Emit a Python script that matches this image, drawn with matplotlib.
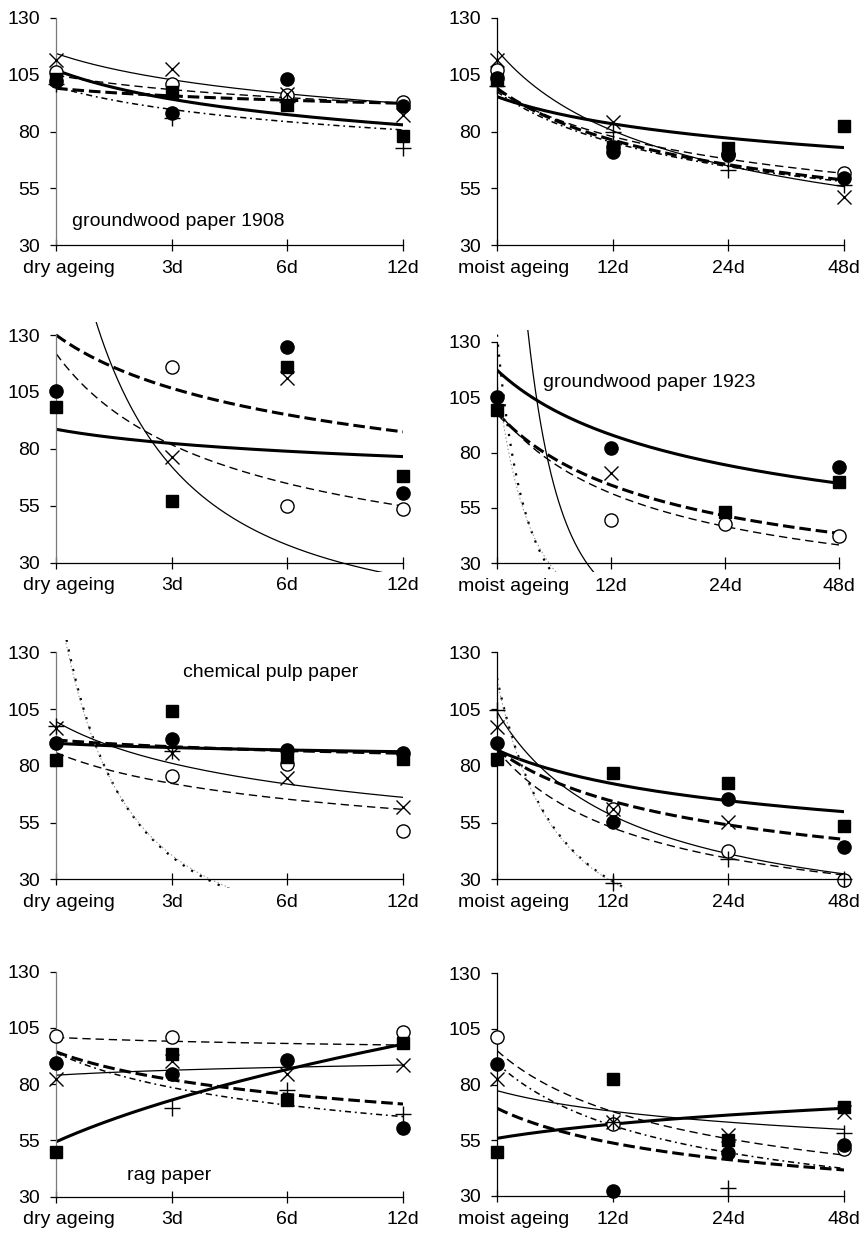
import numpy as np
import matplotlib
matplotlib.use("Agg")
import matplotlib.pyplot as plt
from matplotlib.patches import Rectangle
from matplotlib.transforms import ScaledTranslation

plt.rcParams["font.family"] = ["Liberation Sans", "DejaVu Sans"]
plt.rcParams["font.size"] = 14

NAN = np.nan

dry_ticks = ["dry ageing", "3d", "6d", "12d"]
moist_ticks = ["moist ageing", "12d", "24d", "48d"]

# measured values at the four ageing steps
# keys: sq = filled square, fc = filled circle, oc = open circle, x = cross, plus = plus
gw1908_dry = {
    "sq": [103, 97.5, 91.6, 78],
    "fc": [102, 88, 103, 91],
    "oc": [106, 101, 96, 93],
    "x": [111.5, 107.5, 96.5, 87.3],
    "plus": [101, 86, 93, 72.6],
}
gw1908_moist = {
    "sq": [102.6, 73.3, 72.6, 82.3],
    "fc": [103.4, 71.1, 69.7, 59.4],
    "oc": [107, 73, 70, 61.8],
    "x": [111.4, 84.3, NAN, 51.4],
    "plus": [100, 79.9, 63.1, 56.5],
}
gw1923_dry = {
    "sq": [98.2, 57.2, 116.1, 68.1],
    "fc": [105.5, NAN, 124.6, 60.7],
    "oc": [NAN, 116.1, 55, 53.4],
    "x": [NAN, 76.6, 111, NAN],
    "plus": [NAN, NAN, NAN, NAN],
}
gw1923_moist = {
    "sq": [99.2, NAN, 53.3, 66.8],
    "fc": [105.2, 81.9, NAN, 73.3],
    "oc": [NAN, 49.5, 47.7, 42.3],
    "x": [NAN, 70.9, NAN, NAN],
    "plus": [NAN, NAN, NAN, NAN],
}
chem_dry = {
    "sq": [82.6, 104.3, 84, 82.9],
    "fc": [90.2, 91.7, 87, 85.8],
    "oc": [NAN, 75.5, 80.8, 51.4],
    "x": [96.5, 85.5, 74.5, 62],
    "plus": [97.5, 86.5, NAN, NAN],
}
chem_moist = {
    "sq": [82.9, 77, 72.6, 53.5],
    "fc": [90.2, 55.4, 65.3, 44.1],
    "oc": [NAN, 60.8, 42.6, 29.7],
    "x": [97.3, 60.8, 55.4, NAN],
    "plus": [104.6, 28.2, 38.8, 30],
}
rag_dry = {
    "sq": [50, 93.4, 73, 98.1],
    "fc": [89.3, 84.5, 90.7, 60.4],
    "oc": [101.4, 101.1, NAN, 103.3],
    "x": [82.1, 90.4, 84.5, 88.5],
    "plus": [NAN, 69.3, 77.4, 66.6],
}
rag_moist = {
    "sq": [49.9, 82.4, 55.1, 69.8],
    "fc": [89.3, 32.4, 49.2, 52.9],
    "oc": [101.3, 62.3, NAN, 50.9],
    "x": [82.4, 63.4, 57.4, 67.9],
    "plus": [NAN, 63.4, 33.4, 58.1],
}

# power trendlines y = c * x**k on the step index x = 1..4, as (c, k)
gw1908_dry_trend = {"sq": (107, -0.184), "fc": (99, -0.0498), "oc": (104.8, -0.0908),
                    "x": (114.3, -0.1535), "plus": (99.7, -0.1525)}
gw1908_moist_trend = {"sq": (95.3, -0.193), "fc": (99, -0.377), "oc": (98.2, -0.3365),
                      "x": (115.8, -0.527), "plus": (97.5, -0.375)}
gw1923_dry_trend = {"sq": (88.6, -0.105), "fc": (130, -0.2857), "oc": (121.9, -0.5755),
                    "x": (218.3, -1.596)}
gw1923_moist_trend = {"sq": (117.2, -0.413), "fc": (98, -0.586), "oc": (99.1, -0.686),
                      "x": (387.6, -4.4), "plus": (133.2, -4.156), "fine": (112.9, -3.52)}
chem_dry_trend = {"sq": (89.9, -0.0303), "fc": (91.4, -0.048), "oc": (85.8, -0.2485),
                  "x": (99.5, -0.295), "plus": (161.6, -2.015), "fine": (157.7, -1.955)}
chem_moist_trend = {"sq": (87, -0.2706), "fc": (87, -0.435), "oc": (87, -0.724),
                    "x": (103.9, -0.841), "plus": (118.7, -2.03), "fine": (117.6, -2.03)}
rag_dry_trend = {"sq": (54.4, 0.423), "fc": (94.4, -0.2035), "oc": (100.8, -0.0248),
                 "x": (84, 0.0377), "plus": (94, -0.2595)}
rag_moist_trend = {"sq": (55.9, 0.156), "fc": (69.4, -0.3675), "oc": (95.3, -0.489),
                   "x": (77.3, -0.184), "plus": (89.6, -0.54)}

# ---- styles ----
marker_style = {
    "oc": dict(marker="o", ms=9.5, mfc="white", mec="black", mew=1.0),
    "x": dict(marker="x", ms=10, mec="black", mew=1.0),
    "plus": dict(marker="+", ms=11, mec="black", mew=1.0),
    "fc": dict(marker="o", ms=9.5, mfc="black", mec="black"),
    "sq": dict(marker="s", ms=9, mfc="black", mec="black"),
}
line_style = {
    "sq": dict(color="black", lw=2.2, ls="-"),
    "fc": dict(color="black", lw=2.2, ls=(0, (3.8, 1.6))),
    "oc": dict(color="black", lw=1.0, ls=(0, (6, 3.5))),
    "x": dict(color="black", lw=0.9, ls="-"),
    "dashdot": dict(color="black", lw=1.1, ls=(0, (4, 2.5, 1.2, 2.5))),
    "dots": dict(color="black", lw=1.6, ls=(0, (1.0, 3.5))),
    "fine": dict(color="#8a8a8a", lw=0.7, ls=(0, (1.5, 2.5))),
}

W, H = 866, 1243
fig = plt.figure(figsize=(W / 100, H / 100), dpi=100)


def px_rect(left, right, top, bottom):
    return [left / W, 1 - bottom / H, (right - left) / W, (bottom - top) / H]


panels = [
    # data, trend, ticks, plus style, label, label pos, rect, left column
    (gw1908_dry, gw1908_dry_trend, dry_ticks, "dashdot", "groundwood paper 1908", (1.14, 40.5),
     px_rect(56, 403, 17.7, 245.3), True),
    (gw1908_moist, gw1908_moist_trend, moist_ticks, "dashdot", None, None,
     px_rect(497, 844, 17.7, 245.3), False),
    (gw1923_dry, gw1923_dry_trend, dry_ticks, "dashdot", None, None,
     px_rect(56, 403, 335, 562.7), True),
    (gw1923_moist, gw1923_moist_trend, moist_ticks, "dots", "groundwood paper 1923", (1.40, 111.7),
     px_rect(497, 839, 341.7, 563.3), False),
    (chem_dry, chem_dry_trend, dry_ticks, "dots", "chemical pulp paper", (2.10, 121.3),
     px_rect(56, 403, 652.3, 879.3), True),
    (chem_moist, chem_moist_trend, moist_ticks, "dots", None, None,
     px_rect(497, 844, 652.3, 879.3), False),
    (rag_dry, rag_dry_trend, dry_ticks, "dashdot", "rag paper", (1.61, 39.3),
     px_rect(56, 403, 971.7, 1196.7), True),
    (rag_moist, rag_moist_trend, moist_ticks, "dashdot", None, None,
     px_rect(497, 844, 973.3, 1196), False),
]

steps = np.arange(1, 5)
xs = np.linspace(1, 4, 400)

for data, trend, ticks, plus_style, label, label_pos, rect, left_col in panels:
    ax = fig.add_axes(rect)
    ax.set_xlim(1, 4)
    ax.set_ylim(30, 130)

    # trendlines may run a little past the axis box, as in the plot area
    clip = Rectangle((1, 26), 3, 109.5, transform=ax.transData)
    for key, (c, k) in trend.items():
        style = line_style[plus_style] if key == "plus" else line_style[key]
        (ln,) = ax.plot(xs, c * xs ** k, zorder=2, **style)
        ln.set_clip_path(clip)

    for key in ["oc", "x", "plus", "fc", "sq"]:
        ax.plot(steps, data[key], ls="none", zorder=3, clip_on=False, **marker_style[key])

    if label:
        ax.text(label_pos[0], label_pos[1], label, ha="left", va="center", fontsize=14)

    for side in ["top", "right"]:
        ax.spines[side].set_visible(False)
    for side in ["left", "bottom"]:
        ax.spines[side].set_linewidth(0.9)
    if left_col:
        ax.spines["left"].set_color("#7a7a7a")

    ax.set_yticks([30, 55, 80, 105, 130])
    ax.set_xticks(steps)
    ax.set_xticklabels(ticks)
    ax.tick_params(axis="x", direction="inout", length=9, width=0.9, pad=6, labelsize=14)
    ax.tick_params(axis="y", direction="out", length=4.5, width=0.9, pad=7, labelsize=14)

    shift = 13 if left_col else 17
    first = ax.xaxis.get_majorticklabels()[0]
    first.set_transform(first.get_transform() + ScaledTranslation(shift / 100, 0, fig.dpi_scale_trans))

fig.savefig("out.png", dpi=100)
